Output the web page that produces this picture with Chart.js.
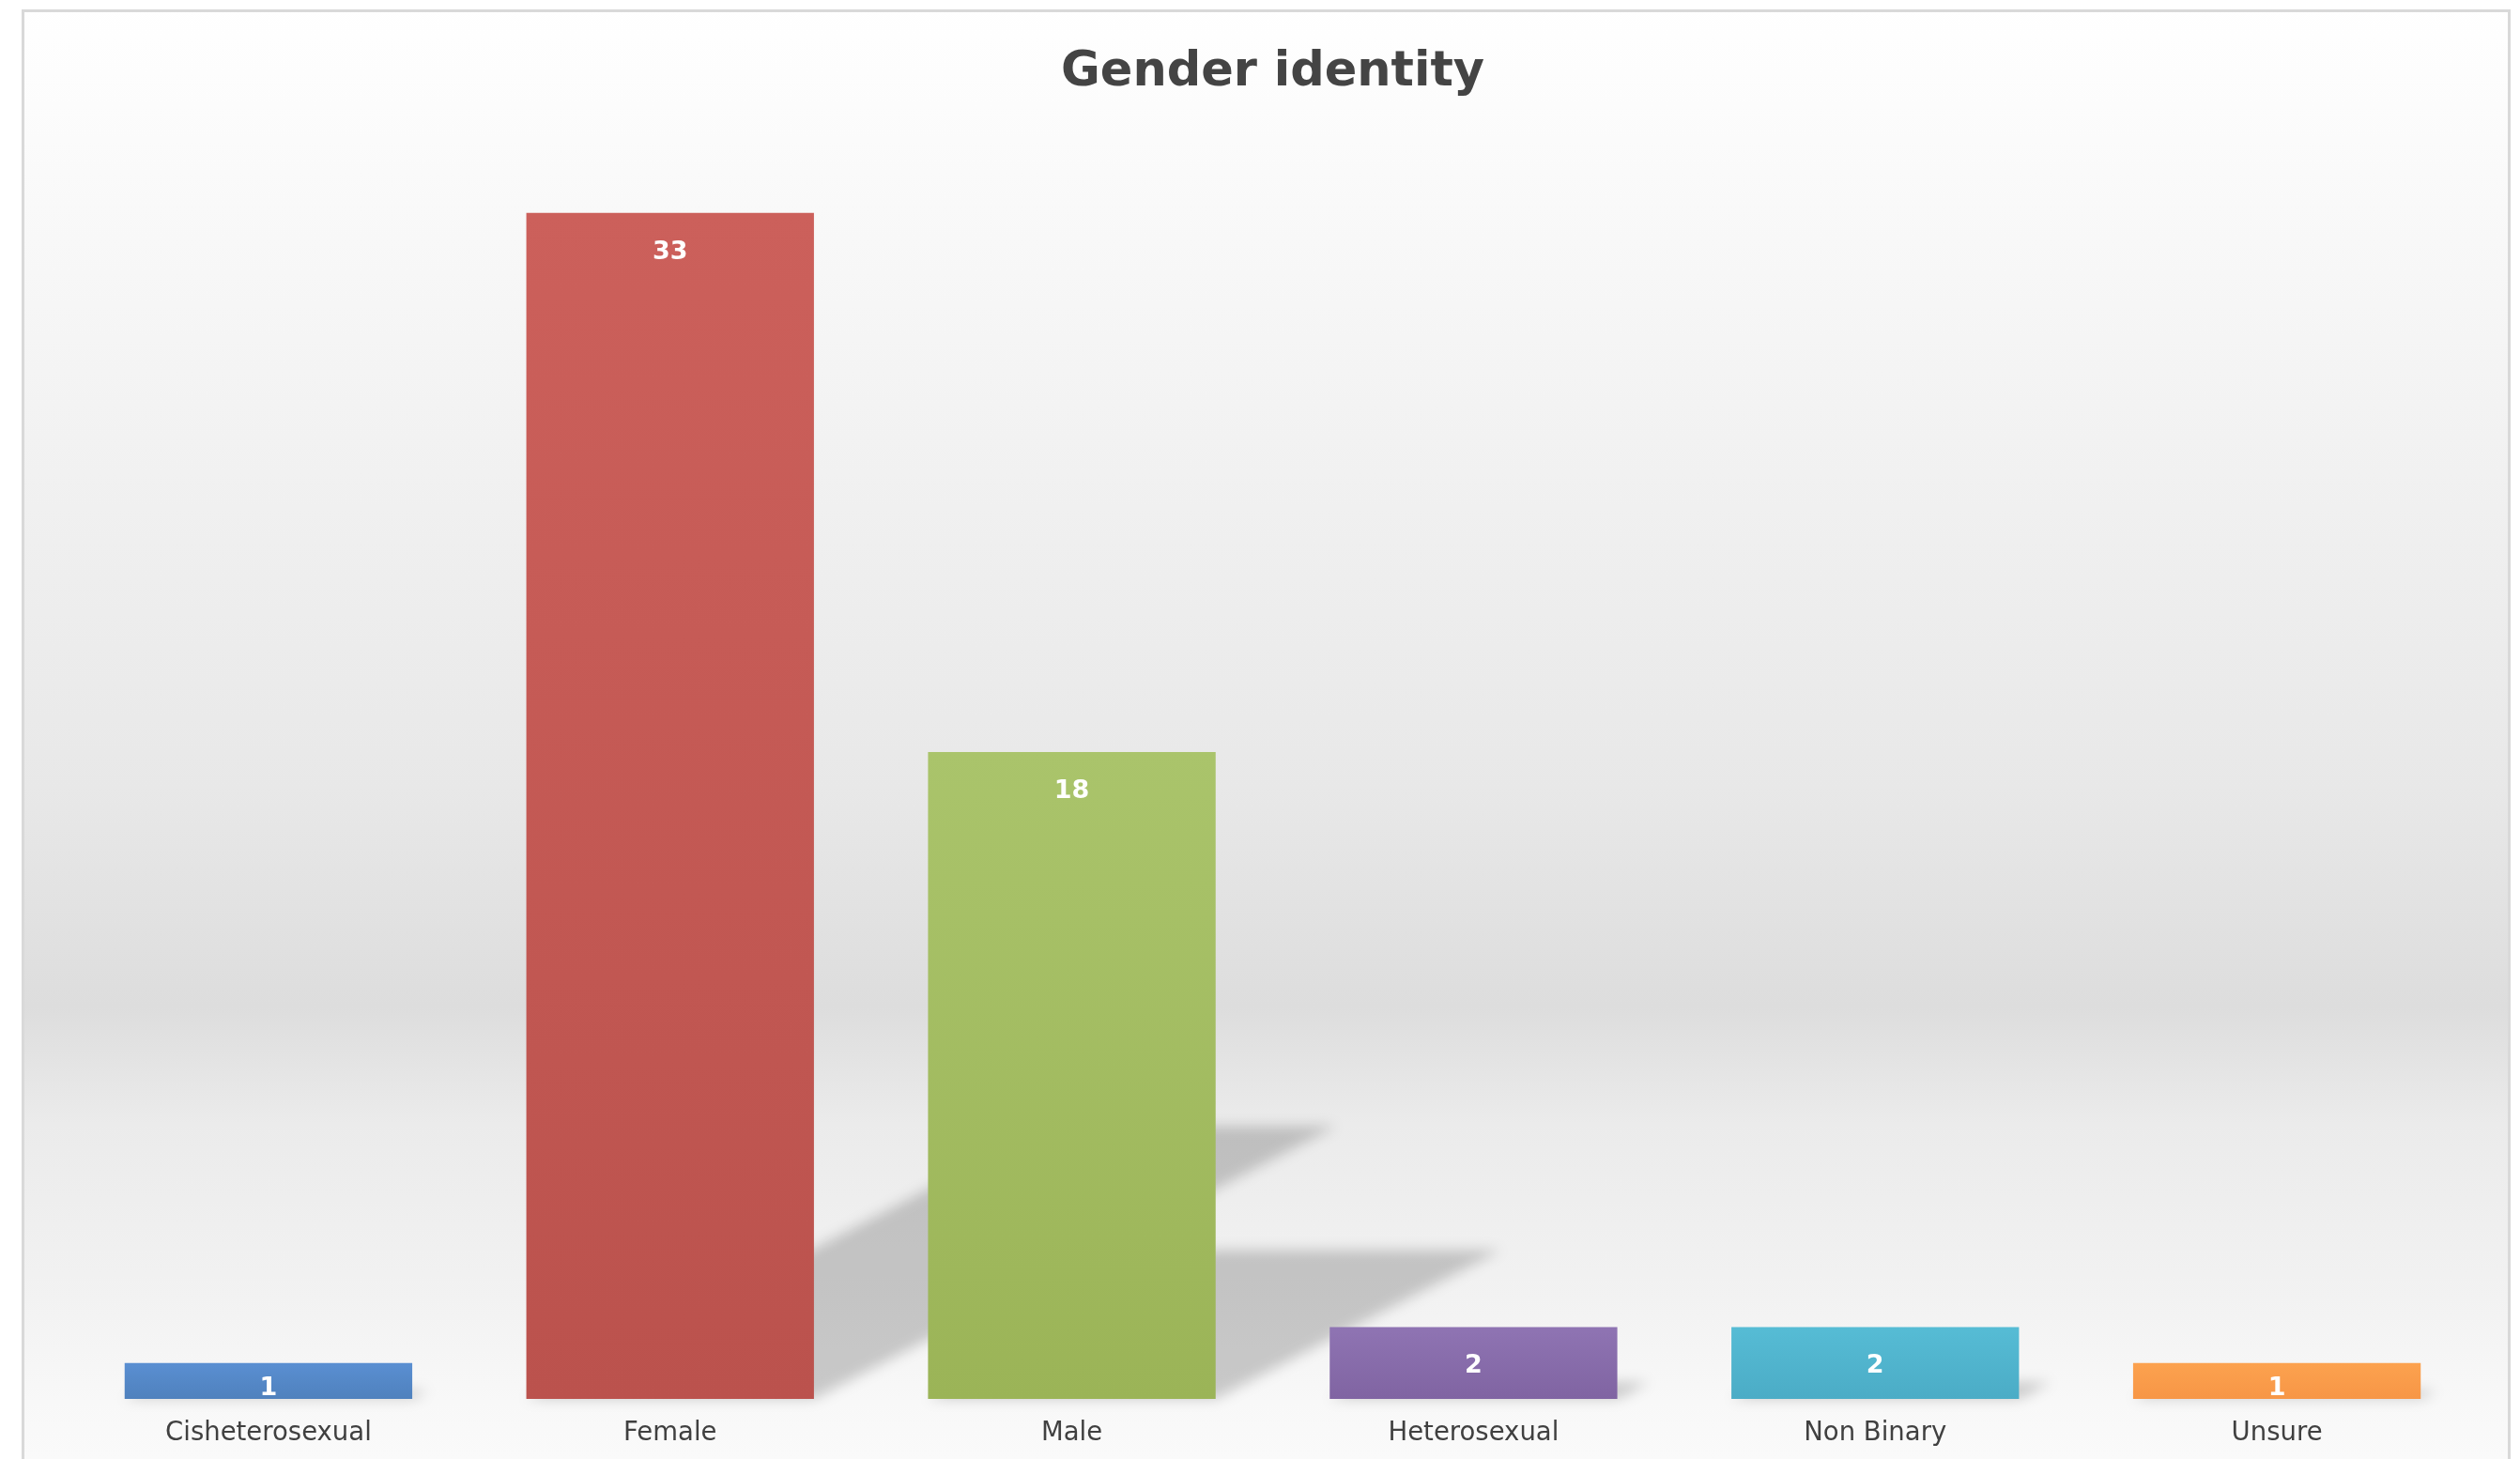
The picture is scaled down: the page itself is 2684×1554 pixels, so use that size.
<!DOCTYPE html>
<html>
<head>
<meta charset="utf-8">
<style>
  html, body { margin: 0; padding: 0; background: #ffffff; }
  #wrap { width: 2684px; height: 1554px; }
</style>
<script src="https://cdn.jsdelivr.net/npm/chart.js@4"></script>
</head>
<body>
<div id="wrap"><canvas id="genderChart" width="2684" height="1554"></canvas></div>
<script>
// Data
const categories = ['Cisheterosexual', 'Female', 'Male', 'Heterosexual', 'Non Binary', 'Unsure'];
const counts = [1, 33, 18, 2, 2, 1];
const barColors = ['#4F81BD', '#BB524D', '#9BB457', '#8064A2', '#4BACC6', '#F79646'];
const barTopColors = ['#5A8FD2', '#CC605B', '#AAC46B', '#8F74B3', '#56BCD5', '#FCA24F'];
const chartTitle = 'Gender identity';

const ctx = document.getElementById('genderChart').getContext('2d');

// Grey gradient backdrop and frame, like the office chart style
const backdrop = {
    id: 'backdrop',
    beforeDraw(chart) {
        const c = chart.ctx;
        const h = chart.height;
        const g = c.createLinearGradient(0, 0, 0, h);
        g.addColorStop(0, '#ffffff');
        g.addColorStop(0.05, '#fdfdfd');
        g.addColorStop(0.3, '#f2f2f2');
        g.addColorStop(0.54, '#e8e8e8');
        g.addColorStop(0.69, '#dddddd');
        g.addColorStop(0.77, '#ebebeb');
        g.addColorStop(0.89, '#f2f2f2');
        g.addColorStop(0.96, '#f8f8f8');
        g.addColorStop(1, '#fafafa');
        c.save();
        c.fillStyle = '#ffffff';
        c.fillRect(0, 0, chart.width, h);
        c.fillStyle = g;
        c.fillRect(24, 11, chart.width - 35, h - 11);
        c.strokeStyle = '#d9d9d9';
        c.lineWidth = 3;
        c.strokeRect(24.5, 11.5, chart.width - 36, h + 10);
        c.restore();
    }
};

// Perspective shadow behind each bar, built from the bar elements
const barShadows = {
    id: 'barShadows',
    beforeDatasetsDraw(chart) {
        const c = chart.ctx;
        const meta = chart.getDatasetMeta(0);
        c.save();
        c.filter = 'blur(7px)';
        c.fillStyle = 'rgba(0, 0, 0, 0.19)';
        meta.data.forEach((bar) => {
            const left = bar.x - bar.width / 2;
            const right = bar.x + bar.width / 2;
            const hgt = bar.base - bar.y;
            const dx = hgt * 0.44;
            const dy = hgt * 0.23;
            c.beginPath();
            c.moveTo(left, bar.base);
            c.lineTo(right, bar.base);
            c.lineTo(right + dx, bar.base - dy);
            c.lineTo(left + dx, bar.base - dy);
            c.closePath();
            c.fill();
        });
        c.restore();
    }
};

// White value labels near the top of each bar
const valueLabels = {
    id: 'valueLabels',
    afterDatasetsDraw(chart) {
        const c = chart.ctx;
        const meta = chart.getDatasetMeta(0);
        c.save();
        c.font = 'bold 27px "DejaVu Sans", sans-serif';
        c.fillStyle = '#ffffff';
        c.textAlign = 'center';
        c.textBaseline = 'middle';
        meta.data.forEach((bar, i) => {
            const hgt = bar.base - bar.y;
            const y = bar.y + Math.min(42, hgt / 2 + 8);
            c.fillText(String(counts[i]), bar.x, y);
        });
        c.restore();
    }
};

function barFill(context) {
    const i = context.dataIndex;
    const chart = context.chart;
    if (i === undefined || !chart.chartArea || !chart.scales.y) return barColors[i || 0];
    const yScale = chart.scales.y;
    const top = yScale.getPixelForValue(counts[i]);
    const bottom = yScale.getPixelForValue(0);
    if (!isFinite(top) || !isFinite(bottom) || top === bottom) return barColors[i];
    const g = chart.ctx.createLinearGradient(0, top, 0, bottom);
    g.addColorStop(0, barTopColors[i]);
    g.addColorStop(1, barColors[i]);
    return g;
}

const chart = new Chart(ctx, {
    type: 'bar',
    data: {
        labels: categories,
        datasets: [{
            label: 'Count',
            data: counts,
            backgroundColor: barFill,
            borderWidth: 0,
            categoryPercentage: 1,
            barPercentage: 0.716,
        }],
    },
    options: {
        responsive: false,
        animation: false,
        layout: {
            padding: { top: 0, bottom: 0, left: 72, right: 45 },
        },
        plugins: {
            legend: { display: false },
            tooltip: { enabled: false },
            title: {
                display: true,
                text: chartTitle,
                color: '#444444',
                font: { family: '"DejaVu Sans", sans-serif', size: 51, weight: 'bold', lineHeight: 1.2 },
                padding: { top: 47, bottom: 42 },
            },
        },
        scales: {
            x: {
                grid: { display: false, drawTicks: false },
                border: { display: false },
                ticks: {
                    color: '#404040',
                    padding: 20,
                    font: { family: '"DejaVu Sans", sans-serif', size: 27.5 },
                },
                afterFit: (scale) => { scale.height = 64; },
            },
            y: {
                display: false,
                beginAtZero: true,
                min: 0,
                max: 35,
            },
        },
    },
    plugins: [backdrop, barShadows, valueLabels],
});
chart.update();
</script>
</body>
</html>
